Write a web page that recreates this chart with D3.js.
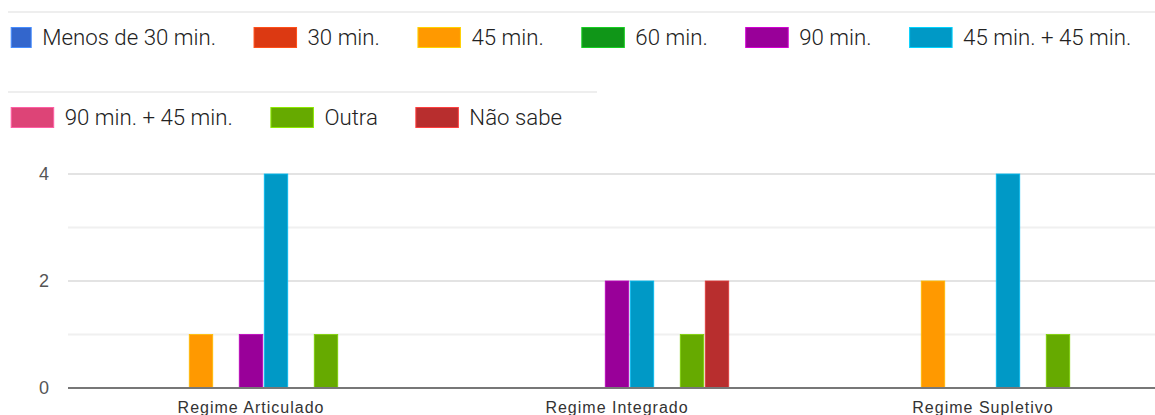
<!DOCTYPE html>
<html><head><meta charset="utf-8">
<script src="https://cdn.jsdelivr.net/npm/d3@7/dist/d3.min.js"></script>
<style>
html,body{margin:0;padding:0;background:#fff;overflow:hidden;}
svg{display:block;}
</style></head>
<body>
<svg id="c" width="1155" height="415"></svg>
<script>
const categories = ["Regime Articulado", "Regime Integrado", "Regime Supletivo"];
const seriesNames = ["Menos de 30 min.", "30 min.", "45 min.", "60 min.", "90 min.", "45 min. + 45 min.", "90 min. + 45 min.", "Outra", "Não sabe"];
const seriesColors = ["#3366cc", "#dc3912", "#ff9900", "#109618", "#990099", "#0099c6", "#dd4477", "#66aa00", "#b82e2e"];
const valsMenos30 = [0, 0, 0];
const vals30 = [0, 0, 0];
const vals45 = [1, 0, 2];
const vals60 = [0, 0, 0];
const vals90 = [1, 2, 0];
const vals45x2 = [4, 2, 4];
const vals90p45 = [0, 0, 0];
const valsOutra = [1, 1, 1];
const valsNaoSabe = [0, 2, 0];
const gridTicks = [0, 1, 2, 3, 4];
const labelTicks = [0, 2, 4];

const seriesValues = [valsMenos30, vals30, vals45, vals60, vals90, vals45x2, vals90p45, valsOutra, valsNaoSabe];

(function () {
const svg = d3.select("#c");

// ---------- Legend (layout) ----------
const legendRows = [
  {boxTop: 27, baseline: 44.5, line: 12, lineEnd: 1155, items: [0,1,2,3,4,5]},
  {boxTop: 107, baseline: 124.5, line: 92, lineEnd: 597, items: [6,7,8]}
];
const lg = svg.append("g");
legendRows.forEach((row, ri) => {
  lg.append("line").attr("x1", 8).attr("x2", row.lineEnd).attr("y1", row.line).attr("y2", row.line)
    .attr("stroke", "#eeeeee").attr("stroke-width", 2);
  let x = 10.7;
  row.items.forEach((si, k) => {
    const bw = (ri === 0 && k === 0) ? 21 : 43.5;
    lg.append("rect").attr("x", x + 0.5).attr("y", row.boxTop + 0.5).attr("width", bw - 1).attr("height", 20)
      .attr("fill", seriesColors[si]).attr("stroke", d3.color(seriesColors[si]).brighter(0.9)).attr("stroke-width", 1);
    const t = lg.append("text").attr("x", x + bw + 10.5).attr("y", row.baseline)
      .style("font-family", "Roboto").style("font-size", "22.25px").style("font-weight", 300)
      .attr("fill", "#222").text(seriesNames[si]);
    x = x + bw + 10.5 + t.node().getComputedTextLength() + 37.5;
  });
});

// ---------- Chart ----------
const mLeft = 68, mRight = 1166, mTop = 174, mBottom = 388;
const y = d3.scaleLinear().domain([0, 4]).range([mBottom, mTop]);
const x0 = d3.scaleBand().domain(categories).range([mLeft, mRight]).padding(0);
const x1 = d3.scaleBand().domain(d3.range(seriesNames.length)).range([0, x0.bandwidth()])
  .paddingInner(0.06).paddingOuter(2.85);

const g = svg.append("g");
g.selectAll("line.grid").data(gridTicks.filter(d => d !== 0)).enter().append("line")
  .attr("class", "grid").attr("x1", mLeft).attr("x2", 1155)
  .attr("y1", d => y(d)).attr("y2", d => y(d))
  .attr("stroke", d => labelTicks.includes(d) ? "#e3e3e3" : "#f0f0f0").attr("stroke-width", 2);

g.selectAll("text.yl").data(labelTicks).enter().append("text")
  .attr("x", 49).attr("y", d => y(d)).attr("dy", "0.35em").attr("text-anchor", "end")
  .style("font", "18px 'Liberation Sans', Arial, sans-serif").attr("fill", "#555").text(d => d);

const flat = [];
categories.forEach((c, ci) => seriesValues.forEach((vals, si) => {
  if (vals[ci] > 0) flat.push({c, si, v: vals[ci]});
}));
g.selectAll("rect.bar").data(flat).enter().append("rect").attr("class", "bar")
  .attr("x", d => x0(d.c) + x1(d.si)).attr("width", x1.bandwidth())
  .attr("y", d => y(d.v)).attr("height", d => y(0) - y(d.v))
  .attr("fill", d => seriesColors[d.si])
  .attr("stroke", d => d3.color(seriesColors[d.si]).brighter(0.6)).attr("stroke-width", 0.8);

g.append("line").attr("x1", mLeft).attr("x2", 1155).attr("y1", y(0)).attr("y2", y(0))
  .attr("stroke", "#777777").attr("stroke-width", 2);

g.selectAll("text.xl").data(categories).enter().append("text")
  .attr("x", d => x0(d) + x0.bandwidth() / 2).attr("y", 413).attr("text-anchor", "middle")
  .style("font", "16px 'Liberation Sans', Arial, sans-serif").style("letter-spacing", "1px")
  .attr("fill", "#333").text(d => d);
})();
</script>
</body></html>
